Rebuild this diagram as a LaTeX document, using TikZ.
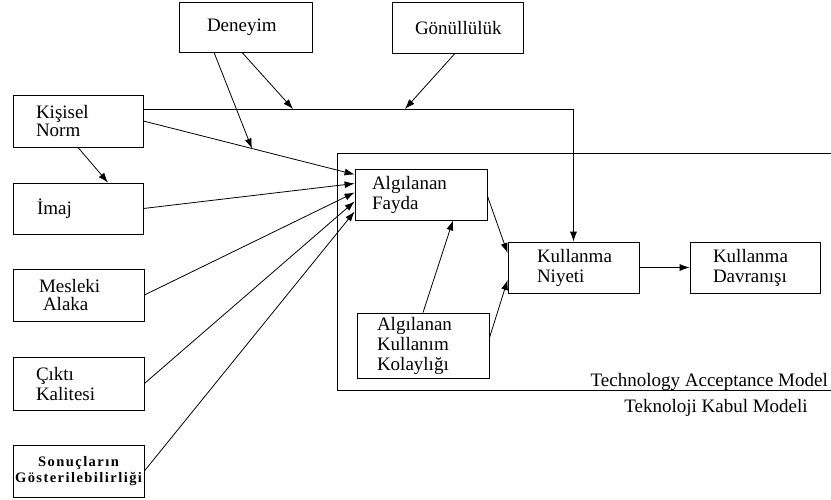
\documentclass[tikz,border=0pt]{standalone}
\usepackage{fontspec}
\setmainfont{Liberation Serif}
\newfontfamily\sonfont{Liberation Serif}[LetterSpace=10]
\usetikzlibrary{arrows.meta,calc}
\tikzset{
  bx/.style={draw, line width=0.8pt, inner ysep=0pt, align=left,
    font=\fontsize{19}{20}\selectfont},
  arr/.style={line width=0.8pt, -{Latex[length=10pt,width=7pt]}},
  ln/.style={line width=0.8pt}
}
\begin{document}
\begin{tikzpicture}[x=1pt,y=-1pt]
\useasboundingbox (0,0) rectangle (831,499);
% frame of the TAM
\draw[ln] (831,153) -- (337,153) -- (337,390) -- (831,390);
\node[anchor=base east, inner sep=0pt, font=\fontsize{19}{20}\selectfont] (tamen) at (828,386) {Technology Acceptance Model};
\node[anchor=base, inner sep=0pt, font=\fontsize{19}{20}\selectfont] (tamtr) at (716,412) {Teknoloji Kabul Modeli};

% boxes
\node[bx, inner xsep=28pt, text width=77pt, minimum height=50pt] (den) at (245.5,27) {Deneyim};
\node[bx, inner xsep=23pt, text width=85pt, minimum height=51pt] (gon) at (457.5,27.5) {Gönüllülük};
\node[bx, inner xsep=23pt, text width=84pt, minimum height=52pt, font=\fontsize{19}{18}\selectfont] (norm) at (78,121) {Kişisel\\Norm};
\node[bx, inner xsep=24pt, text width=82pt, minimum height=51pt] (imaj) at (78,208.5) {İmaj};
\node[bx, inner xsep=26pt, text width=79pt, minimum height=52pt, font=\fontsize{19}{18}\selectfont] (mes) at (78.5,295) {Mesleki\\\hspace*{4pt}Alaka};
\node[bx, inner xsep=23pt, text width=85pt, minimum height=53pt] (cikti) at (78.5,383.5) {Çıktı\\Kalitesi};
\node[bx, align=center, inner xsep=1pt, text width=129pt, minimum height=52pt, font=\sonfont\bfseries\fontsize{14.5}{16}\selectfont] (son) at (78.5,471) {Sonuçların\\Gösterilebilirliği};
\node[bx, inner xsep=17pt, text width=98pt, minimum height=51pt] (fayda) at (421,194.5) {Algılanan\\Fayda};
\node[bx, inner xsep=20pt, text width=92pt, minimum height=65pt] (kol) at (423,345.5) {Algılanan\\Kullanım\\Kolaylığı};
\node[bx, inner xsep=29pt, text width=73pt, minimum height=51pt] (niyet) at (573.5,267.5) {Kullanma\\Niyeti};
\node[bx, inner xsep=23pt, text width=84pt, minimum height=51pt] (dav) at (755,267.5) {Kullanma\\Davranışı};

% coordinates on connectors
\coordinate (ftop) at ([yshift=20pt]fayda.west);
\coordinate (m3) at ($(norm.east)!0.514!(ftop)$);
\coordinate (m1) at (293,109);
\coordinate (m2) at (405,109);

% connectors into Algilanan Fayda
\draw[arr] (norm.east) -- (ftop);
\draw[arr] (imaj.east) -- ([yshift=11pt]fayda.west);
\draw[arr] (mes.east) -- ([yshift=2pt]fayda.west);
\draw[arr] (cikti.east) -- ([yshift=-7pt]fayda.west);
\draw[arr] (son.east) -- ([yshift=-17pt]fayda.west);

\draw[arr] (norm.south) -- ([xshift=30pt]imaj.north);

% moderators
\draw[arr] ([xshift=-31.5pt]den.south) -- (m3);
\draw[arr] ([xshift=-3.5pt]den.south) -- (m1);
\draw[arr] ([xshift=-2.5pt]gon.south) -- (m2);
\draw[arr] ([yshift=12pt]norm.east) -| (niyet.north);

% TAM
\draw[arr] ([yshift=-1.5pt]fayda.east) -- ([yshift=14.5pt]niyet.west);
\draw[arr] ([yshift=7.5pt]kol.east) -- ([yshift=-12.5pt]niyet.west);
\draw[arr] (kol.north) -- ([xshift=32pt]fayda.south);
\draw[arr] (niyet.east) -- (dav.west);
\end{tikzpicture}
\end{document}
